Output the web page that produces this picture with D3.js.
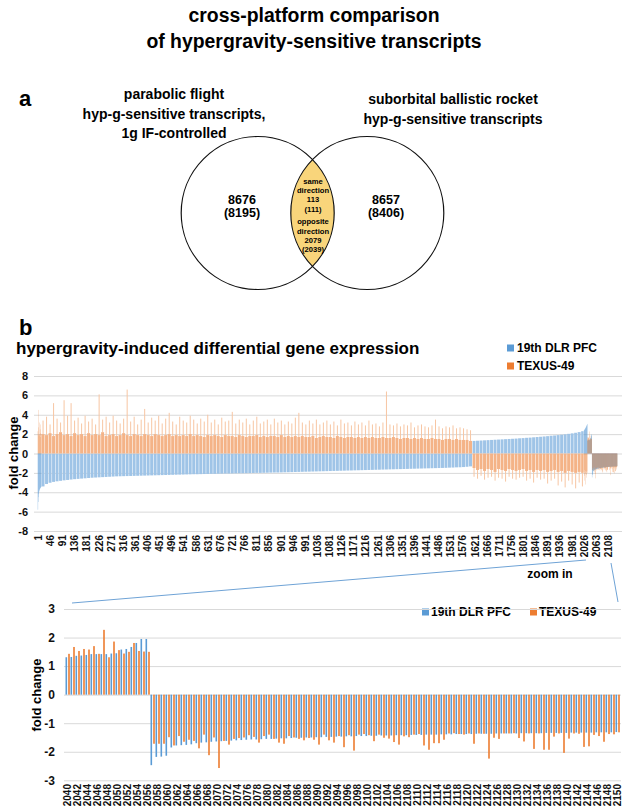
<!DOCTYPE html>
<html><head><meta charset="utf-8">
<script src="https://cdn.jsdelivr.net/npm/d3@7/dist/d3.min.js"></script>
<style>
body{margin:0;background:#fff;}
svg{display:block;font-family:"Liberation Sans",Arial,Helvetica,sans-serif;font-weight:bold;}
</style></head><body>
<svg id="c" width="625" height="810"></svg>
<script>
// ---------------- DATA ----------------
const titleLines = ["cross-platform comparison", "of hypergravity-sensitive transcripts"];
const vennLeftLabel = ["parabolic flight", "hyp-g-sensitive transcripts,", "1g IF-controlled"];
const vennRightLabel = ["suborbital ballistic rocket", "hyp-g-sensitive transcripts"];
const vennLeftCounts = ["8676", "(8195)"];
const vennRightCounts = ["8657", "(8406)"];
const vennOverlapText = ["same", "direction", "113", "(111)", "opposite", "direction", "2079", "(2039)"];
const seriesNames = ["19th DLR PFC", "TEXUS-49"];

// overview chart (2150 transcripts), opposite-direction part summarised in bins
const headBlue = [-5.8,-5.0,-4.5,-4.2,-4.0,-3.85,-3.75,-3.68,-3.62,-3.57,-3.52,-3.48,-3.44];
const headOrange = [2.3,4.5,1.9,2.7,1.8,3.2,2.0,1.9,2.5,1.7,3.0,2.1,2.0];
const bodyABlue = [-3.40,-3.15,-3.02,-2.93,-2.87,-2.82,-2.77,-2.73,-2.69,-2.65,
 -2.62,-2.59,-2.56,-2.53,-2.50,-2.48,-2.46,-2.44,-2.42,-2.40,
 -2.38,-2.36,-2.35,-2.34,-2.33,-2.32,-2.31,-2.30,-2.29,-2.28,
 -2.27,-2.26,-2.25,-2.24,-2.23,-2.22,-2.21,-2.20,-2.19,-2.18,
 -2.17,-2.16,-2.15,-2.14,-2.14,-2.13,-2.12,-2.11,-2.10,-2.10,
 -2.09,-2.08,-2.07,-2.07,-2.06,-2.05,-2.04,-2.04,-2.03,-2.02,
 -2.01,-2.00,-2.00,-1.99,-1.98,-1.97,-1.96,-1.96,-1.95,-1.94,
 -1.93,-1.92,-1.91,-1.90,-1.89,-1.88,-1.87,-1.86,-1.85,-1.84,
 -1.83,-1.82,-1.81,-1.80,-1.79,-1.78,-1.77,-1.76,-1.75,-1.74,
 -1.73,-1.72,-1.71,-1.70,-1.69,-1.68,-1.67,-1.66,-1.65,-1.64,
 -1.63,-1.62,-1.61,-1.60,-1.59,-1.58,-1.57,-1.56,-1.55,-1.54,
 -1.53,-1.52,-1.51,-1.50,-1.49,-1.48,-1.46,-1.45,-1.43,-1.42,
 -1.40,-1.37,-1.33];
const bodyAOrange = [2.0,1.9,2.1,1.8,2.0,2.2,1.9,2.0,1.8,2.1,
 1.9,2.0,1.8,2.1,1.9,2.0,1.9,2.2,1.8,1.9,
 2.0,1.8,1.9,2.1,1.9,1.8,2.0,1.9,1.8,2.0,
 1.9,1.8,2.0,1.9,1.8,1.9,2.0,1.8,1.9,1.8,
 1.9,1.8,2.0,1.8,1.9,1.8,1.7,1.9,1.8,1.9,
 1.8,1.7,1.9,1.8,1.8,1.7,1.9,1.8,1.7,1.8,
 1.8,1.9,1.7,1.8,1.7,1.8,1.8,1.7,1.9,1.7,
 1.8,1.7,1.8,1.7,1.8,1.7,1.7,1.8,1.6,1.7,
 1.8,1.7,1.7,1.6,1.8,1.7,1.6,1.7,1.7,1.6,
 1.7,1.6,1.7,1.6,1.7,1.6,1.6,1.7,1.6,1.6,
 1.7,1.6,1.5,1.6,1.6,1.5,1.6,1.5,1.6,1.5,
 1.5,1.6,1.5,1.5,1.4,1.5,1.5,1.4,1.5,1.4,
 1.4,1.4,1.3];
const bodyAOrangePeak = [3.4,3.8,3.0,5.2,3.6,3.2,5.5,3.9,5.2,3.4,
 3.7,3.1,3.9,3.3,3.6,3.0,6.1,3.5,3.8,3.2,
 3.9,3.4,3.1,3.6,6.6,3.3,3.8,3.0,3.5,4.6,
 3.2,3.7,3.4,3.9,3.1,3.6,4.2,3.3,3.0,3.8,
 3.4,3.2,3.9,3.5,3.1,3.6,3.3,4.0,3.2,3.5,
 3.0,3.7,3.3,3.4,4.3,3.1,3.5,3.2,3.6,3.0,
 3.4,3.8,3.1,3.3,3.5,3.0,3.6,3.2,3.4,3.0,
 3.3,3.1,3.7,4.2,3.2,3.0,3.4,3.1,3.5,3.0,
 3.2,3.4,3.0,3.3,2.9,3.5,3.1,3.2,2.9,3.3,
 3.0,3.2,2.9,3.4,3.0,3.1,2.8,3.2,6.4,3.0,
 2.9,3.1,2.8,3.0,2.9,3.2,2.7,2.9,3.0,2.8,
 2.7,2.9,3.5,2.8,2.6,2.8,2.7,2.9,2.6,2.7,
 2.6,2.5,2.4];
const bodyBBlue = [1.30,1.32,1.34,1.36,1.38,1.40,1.42,1.44,1.46,1.48,
 1.50,1.52,1.54,1.57,1.59,1.62,1.64,1.67,1.70,1.73,
 1.76,1.79,1.83,1.86,1.90,1.94,1.98,2.03,2.08,2.14,
 2.21,2.30];
const bodyBOrange = [-1.5,-1.7,-1.6,-1.8,-1.6,-1.7,-1.9,-1.6,-1.7,-1.8,
 -1.6,-1.7,-1.8,-1.7,-1.6,-1.8,-1.7,-1.9,-1.7,-1.8,
 -1.7,-1.9,-1.8,-1.7,-1.9,-1.8,-2.0,-1.8,-1.9,-2.0,
 -1.9,-2.0];
const bodyBOrangePeak = [-2.4,-2.6,-2.3,-2.7,-2.5,-2.4,-2.8,-2.5,-2.6,-2.9,
 -2.4,-2.6,-2.7,-2.5,-2.4,-2.8,-2.6,-3.0,-2.5,-2.7,
 -2.6,-3.1,-2.8,-2.6,-3.3,-2.9,-3.5,-2.8,-3.2,-3.6,
 -3.0,-3.4];
const tailBlue = [2.38,2.42,2.46,2.50,2.55,2.60,2.65,2.70,2.76,2.82,2.88,2.95,3.05];
const tailOrange = [-1.9,-2.3,-1.7,-2.8,-2.0,-1.8,-3.2,-2.1,-1.9,-2.5,-2.2,-1.8,-2.0];
const topTickLabels = ["1","46","91","136","181","226","271","316","361","406","451","496","541","586","631","676",
 "721","766","811","856","901","946","991","1036","1081","1126","1171","1216","1261","1306","1351","1396",
 "1441","1486","1531","1576","1621","1666","1711","1756","1801","1846","1891","1936","1981","2026","2063","2108"];

// zoomed same-direction part: transcripts 2040-2150
const zoomFirst = 2040, zoomLast = 2150;
const zoomBlue = [1.31,1.32,1.36,1.37,1.39,1.42,1.42,1.42,1.42,1.44,1.45,1.58,1.60,1.67,1.81,1.95,1.95,
 -2.47,-2.18,-2.17,-2.14,-1.85,-1.78,-1.77,-1.76,-1.74,-1.70,
 -1.68,-1.67,-1.65,-1.64,-1.63,-1.62,-1.61,-1.60,-1.59,-1.58,
 -1.57,-1.57,-1.56,-1.55,-1.55,-1.54,-1.53,-1.53,-1.52,-1.51,
 -1.51,-1.50,-1.50,-1.49,-1.49,-1.48,-1.48,-1.47,-1.47,-1.46,
 -1.46,-1.45,-1.45,-1.45,-1.44,-1.44,-1.43,-1.43,-1.43,-1.42,
 -1.42,-1.42,-1.41,-1.41,-1.41,-1.40,-1.40,-1.40,-1.39,-1.39,
 -1.39,-1.38,-1.38,-1.38,-1.38,-1.37,-1.37,-1.37,-1.37,-1.36,
 -1.36,-1.36,-1.36,-1.36,-1.35,-1.35,-1.35,-1.35,-1.35,-1.34,
 -1.34,-1.34,-1.34,-1.34,-1.33,-1.33,-1.33,-1.33,-1.33,-1.32,
 -1.32,-1.32,-1.32,-1.31];
const zoomOrange = [1.43,1.67,1.53,1.60,1.58,1.70,1.43,2.27,1.31,1.86,1.56,1.44,1.50,1.81,1.53,1.51,1.50,
 -1.72,-1.72,-1.72,-1.49,-1.78,-1.45,-1.65,-1.58,-1.62,-1.88,
 -1.40,-2.12,-1.50,-2.57,-1.62,-1.75,-1.55,-1.52,-1.50,-1.42,
 -1.48,-1.68,-1.45,-1.40,-1.55,-1.68,-1.72,-1.45,-1.50,-1.55,
 -1.60,-1.52,-1.58,-1.75,-1.40,-1.60,-1.68,-1.45,-1.84,-1.42,
 -1.96,-1.40,-1.38,-1.42,-1.63,-1.40,-1.51,-1.54,-1.66,-1.75,
 -1.46,-1.49,-1.40,-1.38,-1.78,-1.93,-1.70,-1.70,-1.58,-1.36,
 -1.35,-1.38,-1.40,-1.36,-1.72,-1.36,-1.37,-2.24,-1.51,-1.55,
 -1.36,-1.36,-1.35,-1.52,-1.64,-1.36,-1.90,-1.36,-1.93,-1.93,
 -1.47,-1.36,-2.04,-1.54,-1.36,-1.37,-1.83,-1.81,-1.41,-1.45,
 -1.65,-1.38,-1.39,-1.32];

// ---------------- DRAW ----------------
const svg = d3.select("#c");
const C = {blue:"#5b9bd5", orange:"#ed7d31", paleBlue:"#9fc4e7", paleOrange:"#f4b387", peakOrange:"#f7c6a3", grid:"#d9d9d9"};
const fmtTick = d => String(d);

// titles
svg.append("g").selectAll("text").data(titleLines).join("text")
  .attr("x", 314).attr("y", (d,i)=>15+i*26).attr("text-anchor","middle").attr("dominant-baseline","central")
  .attr("font-size",19.4).text(d=>d);
svg.append("text").attr("x",19).attr("y",98).attr("dominant-baseline","central").attr("font-size",22).text("a");
svg.append("text").attr("x",19).attr("y",327).attr("dominant-baseline","central").attr("font-size",22).text("b");

svg.append("g").selectAll("text").data(vennLeftLabel).join("text")
  .attr("x",174).attr("y",(d,i)=>94+i*19.5).attr("text-anchor","middle").attr("dominant-baseline","central")
  .attr("font-size",14).text(d=>d);
svg.append("g").selectAll("text").data(vennRightLabel).join("text")
  .attr("x",453).attr("y",(d,i)=>99+i*19.5).attr("text-anchor","middle").attr("dominant-baseline","central")
  .attr("font-size",14).text(d=>d);

// Venn
const venn = {cy:213, r:76.5, lx:257.7, rx:367.3};
const defs = svg.append("defs");
defs.append("clipPath").attr("id","clipL").append("circle").attr("cx",venn.lx).attr("cy",venn.cy).attr("r",venn.r);
svg.append("circle").attr("cx",venn.rx).attr("cy",venn.cy).attr("r",venn.r).attr("fill","#f9d57b").attr("clip-path","url(#clipL)");
svg.append("g").selectAll("circle").data([venn.lx, venn.rx]).join("circle")
  .attr("cx",d=>d).attr("cy",venn.cy).attr("r",venn.r).attr("fill","none").attr("stroke","#111").attr("stroke-width",1.2);
svg.append("g").selectAll("text").data(vennLeftCounts).join("text")
  .attr("x",242).attr("y",(d,i)=>200+i*12.5).attr("text-anchor","middle").attr("dominant-baseline","central").attr("font-size",12.5).text(d=>d);
svg.append("g").selectAll("text").data(vennRightCounts).join("text")
  .attr("x",386).attr("y",(d,i)=>200+i*12.5).attr("text-anchor","middle").attr("dominant-baseline","central").attr("font-size",12.5).text(d=>d);
svg.append("g").selectAll("text").data(vennOverlapText).join("text")
  .attr("x",313).attr("y",(d,i)=>181+i*9.4+(i>=4?3:0)).attr("text-anchor","middle").attr("dominant-baseline","central")
  .attr("font-size",7.6).text(d=>d);

// ---------- overview chart ----------
svg.append("text").attr("x",16).attr("y",348).attr("dominant-baseline","central").attr("font-size",17)
  .text("hypergravity-induced differential gene expression");
const legTop = svg.append("g").selectAll("g").data(seriesNames).join("g")
  .attr("transform",(d,i)=>`translate(507,${348+i*18})`);
legTop.append("rect").attr("x",0).attr("y",-3.5).attr("width",7).attr("height",7).attr("fill",(d,i)=>i?C.orange:C.blue);
legTop.append("text").attr("x",10).attr("dominant-baseline","central").attr("font-size",12).text(d=>d);

const total = 13+1599+414+13+zoomBlue.length;
const xT = d3.scaleLinear().domain([0,total]).range([37.8,617.3]);
const yT = d3.scaleLinear().domain([-8,8]).range([531,376]);
const gyT = svg.append("g").attr("transform","translate(34,0)")
  .call(d3.axisLeft(yT).tickValues(d3.range(-8,9,2)).tickFormat(fmtTick).tickSize(-588).tickPadding(6));
gyT.select(".domain").remove();
gyT.selectAll("line").attr("stroke",C.grid);
gyT.selectAll("text").attr("font-size",11).attr("font-weight","bold").attr("fill","#111").attr("font-family","Liberation Sans, Arial");
svg.append("text").attr("transform","translate(13,453) rotate(-90)").attr("text-anchor","middle")
  .attr("dominant-baseline","central").attr("font-size",13).text("fold change");

const sections = [
  {count:13, bin:1, blue:headBlue, orange:headOrange, peak:headOrange},
  {count:1599, bin:13, blue:bodyABlue, orange:bodyAOrange, peak:bodyAOrangePeak},
  {count:414, bin:13, blue:bodyBBlue, orange:bodyBOrange, peak:bodyBOrangePeak},
  {count:13, bin:1, blue:tailBlue, orange:tailOrange, peak:tailOrange},
  {count:zoomBlue.length, bin:1, blue:zoomBlue, orange:zoomOrange, peak:zoomOrange, same:true}
];
const bars = [];
let start = 0;
sections.forEach(s=>{
  s.blue.forEach((v,i)=>{
    const a = start + i*s.bin, b = Math.min(start+(i+1)*s.bin, start+s.count);
    bars.push({a, b, blue:v, orange:s.orange[i], peak:s.peak[i], bin:s.bin, same:!!s.same});
  });
  start += s.count;
});
const gBars = svg.append("g");
function rectV(g, x0, w, v0, v1, fill, op){
  g.append("rect").attr("x",x0).attr("width",w).attr("y",yT(Math.max(v0,v1))).attr("height",Math.abs(yT(v0)-yT(v1))).attr("fill",fill).attr("opacity",op||1);
}
bars.forEach(d=>{
  const x0 = xT(d.a), x1 = xT(d.b);
  if(d.bin>1){
    const w = x1-x0-0.55;
    rectV(gBars, x0+0.25, w, 0, d.blue, C.paleBlue);
    rectV(gBars, x0+(x1-x0)/2-0.5, 1.0, d.orange, d.peak, C.peakOrange);
    rectV(gBars, x0+0.25, w, 0, d.orange, C.paleOrange);
  } else if(d.same){
    rectV(gBars, x0, x1-x0, 0, d.blue, C.blue, 0.8);
    rectV(gBars, x0, x1-x0, 0, d.orange, C.orange, 0.75);
  } else {
    rectV(gBars, x0, x1-x0, 0, d.blue, C.blue, 0.9);
    rectV(gBars, x0, x1-x0, 0, d.orange, C.orange, 0.7);
  }
});
const gxT = svg.append("g").attr("transform","translate(0,533)")
  .call(d3.axisBottom(xT).tickValues(topTickLabels.map((d,i)=>i*45+0.5)).tickFormat((d,i)=>topTickLabels[i]).tickSize(0).tickPadding(0));
gxT.select(".domain").remove();
gxT.selectAll("text").attr("transform","rotate(-90)").attr("text-anchor","end").attr("dy","0.35em").attr("x",-2).attr("y",0)
  .attr("font-size",10).attr("font-weight","bold").attr("fill","#111").attr("font-family","Liberation Sans, Arial");

// ---------- zoom chart ----------
svg.append("g").selectAll("line").data([[72,603,586,560],[611,563,618,602]]).join("line")
  .attr("x1",d=>d[0]).attr("y1",d=>d[1]).attr("x2",d=>d[2]).attr("y2",d=>d[3]).attr("stroke","#6fa3d6").attr("stroke-width",1);
svg.append("text").attr("x",550).attr("y",574).attr("text-anchor","middle").attr("dominant-baseline","central").attr("font-size",12).text("zoom in");
const legB = svg.append("g").selectAll("g").data(seriesNames).join("g")
  .attr("transform",(d,i)=>`translate(${i?530:422},612)`);
legB.append("rect").attr("x",0).attr("y",-3.5).attr("width",7).attr("height",7).attr("fill",(d,i)=>i?C.orange:C.blue);
legB.append("text").attr("x",9).attr("dominant-baseline","central").attr("font-size",12).text(d=>d);

const zoomCats = d3.range(zoomFirst, zoomLast+1);
const xB = d3.scaleBand().domain(zoomCats).range([64.5,619.5]).padding(0);
const yB = d3.scaleLinear().domain([-3,3]).range([780.3,609]);
const gyB = svg.append("g").attr("transform","translate(64,0)")
  .call(d3.axisLeft(yB).tickValues(d3.range(-3,4,1)).tickFormat(fmtTick).tickSize(-557).tickPadding(9));
gyB.select(".domain").remove();
gyB.selectAll("line").attr("stroke",C.grid);
gyB.selectAll("text").attr("font-size",12).attr("font-weight","bold").attr("fill","#111").attr("font-family","Liberation Sans, Arial");
svg.append("text").attr("transform","translate(36,695) rotate(-90)").attr("text-anchor","middle")
  .attr("dominant-baseline","central").attr("font-size",13).text("fold change");
const bw = xB.bandwidth();
const gZ = svg.append("g");
zoomCats.forEach((c,i)=>{
  [[zoomBlue[i], C.blue, 0.2],[zoomOrange[i], C.orange, 0.74]].forEach(([v,col,off])=>{
    gZ.append("rect").attr("x",xB(c)+off*bw).attr("width",0.32*bw)
      .attr("y",yB(Math.max(0,v))).attr("height",Math.abs(yB(v)-yB(0))).attr("fill",col);
  });
});
const gxB = svg.append("g").attr("transform","translate(0,783)")
  .call(d3.axisBottom(xB).tickValues(zoomCats.filter((c,i)=>i%2===0)).tickSize(0).tickPadding(0));
gxB.select(".domain").remove();
gxB.selectAll("text").attr("transform","rotate(-90)").attr("text-anchor","end").attr("dy","0.35em").attr("x",-1).attr("y",0)
  .attr("font-size",10).attr("font-weight","bold").attr("fill","#111").attr("font-family","Liberation Sans, Arial");
gxB.selectAll(".tick").attr("transform",d=>`translate(${xB(d)+2.9},0)`);
</script>
</body></html>
